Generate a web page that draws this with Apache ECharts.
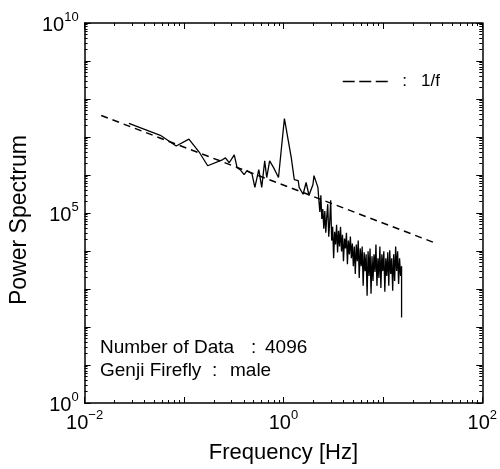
<!DOCTYPE html>
<html>
<head>
<meta charset="utf-8">
<script src="https://cdn.jsdelivr.net/npm/echarts@6/dist/echarts.min.js"></script>
<style>
  html, body { margin: 0; padding: 0; background: #fff; }
  #chart { width: 500px; height: 469px; }
</style>
</head>
<body>
<div id="chart"></div>
<script>
// spectrum
const freq = [
  0.0279, 0.0578, 0.0834, 0.112, 0.144, 0.173, 0.243, 0.261, 0.285, 0.320,
  0.342, 0.367, 0.402, 0.430, 0.482, 0.516, 0.565, 0.605, 0.648, 0.679,
  0.726, 0.796, 0.892, 0.955, 1.023, 1.121, 1.200, 1.285, 1.408, 1.439,
  1.507, 1.578, 1.690, 1.808, 1.982, 2.028, 2.123, 2.223,
  2.272, 2.325, 2.379, 2.433, 2.489, 2.547, 2.606, 2.666, 2.727, 2.790,
  2.855, 2.921, 2.988, 3.057, 3.126, 3.199, 3.273, 3.348, 3.426, 3.504,
  3.585, 3.668, 3.752, 3.839, 3.927, 4.018, 4.111, 4.206, 4.303, 4.402,
  4.503, 4.607, 4.713, 4.822, 4.933, 5.047, 5.163, 5.282, 5.404, 5.529,
  5.656, 5.786, 5.920, 6.057, 6.196, 6.339, 6.485, 6.635, 6.788, 6.944,
  7.104, 7.268, 7.435, 7.607, 7.782, 7.962, 8.145, 8.333, 8.525, 8.722,
  8.923, 9.129, 9.339, 9.555, 9.775, 10.00, 10.23, 10.47, 10.71, 10.95,
  11.21, 11.47, 11.73, 12.00, 12.28, 12.56, 12.85, 13.15, 13.45, 13.76,
  14.08, 14.40, 14.73, 15.08, 15.43, 15.43
];
const power = [
  2.28e7, 1.11e7, 5.78e6, 8.77e6, 3.80e6, 1.75e6, 2.51e6, 2.82e6, 2.10e6, 3.38e6,
  1.56e6, 1.38e6, 1.02e6, 1.30e6, 1.09e6, 4.72e5, 1.38e6, 4.72e5, 2.36e6, 8.57e5,
  2.36e6, 1.56e6, 8.57e5, 5.13e6, 3.07e7, 7.78e6, 2.82e6, 7.60e5, 7.16e5, 4.72e5,
  5.31e5, 3.11e5, 6.35e5, 2.93e5, 5.64e5, 9.64e5, 1.02e6, 4.72e5,
  2.17e5, 1.06e5, 2.93e5, 7.00e4, 1.27e5, 3.85e4, 1.13e5, 3.03e4, 7.87e4, 1.71e5,
  2.39e4, 5.85e4, 2.17e5, 1.88e4, 4.34e4, 6.43e3, 3.22e4, 1.48e4, 4.89e4, 9.20e3,
  3.42e4, 1.32e4, 4.34e4, 9.77e3, 2.69e4, 5.38e3, 2.12e4, 1.17e4, 3.03e4, 4.50e3,
  1.88e4, 8.17e3, 2.39e4, 6.43e3, 1.57e4, 3.99e3, 1.32e4, 2.48e3, 1.48e4, 5.38e3,
  1.88e4, 1.95e3, 1.17e4, 3.99e3, 1.32e4, 1.21e3, 9.20e3, 2.96e3, 8.17e3, 667,
  9.77e3, 2.20e3, 1.17e4, 752, 7.24e3, 1.63e3, 8.17e3, 2.79e3, 1.48e4, 1.21e3,
  6.43e3, 1.95e3, 1.32e4, 1.07e3, 8.17e3, 2.96e3, 9.77e3, 845, 6.43e3, 2.20e3,
  9.20e3, 1.21e3, 1.04e4, 2.48e3, 6.43e3, 898, 8.17e3, 1.63e3, 1.32e4, 2.96e3,
  9.77e3, 1.36e3, 6.43e3, 2.20e3, 3.99e3, 179
];
// dashed 1/f reference line
const fitFreq = [0.0147, 32.7];
const fitPower = [3.67e7, 1.67e4];

const xMajorTicks = [0.01, 0.1, 1, 10, 100];
const xLabelTicks = [0.01, 1, 100];
const yMajorTicks = [1, 1e1, 1e2, 1e3, 1e4, 1e5, 1e6, 1e7, 1e8, 1e9, 1e10];
const yLabelTicks = [1, 1e5, 1e10];

const font = "'Liberation Sans', Arial, Helvetica, sans-serif";

function minorTicks(majors) {
  const out = [];
  for (let i = 0; i < majors.length - 1; i++) {
    for (let m = 2; m <= 9; m++) out.push(+(m * majors[i]).toPrecision(6));
  }
  return out;
}

function powLabel(v) {
  const e = Math.round(Math.log10(v));
  return '{b|10}{s|' + (e < 0 ? '\u2212' + (-e) : e) + '}';
}

const labelRich = {
  b: { fontSize: 20, lineHeight: 24, verticalAlign: 'bottom', fontFamily: font, color: '#000' },
  s: { fontSize: 13, lineHeight: 14, verticalAlign: 'top', fontFamily: font, color: '#000' }
};

function logAxis(pos, min, max, ticks, len, frame, label) {
  return {
    type: 'log',
    logBase: 10,
    position: pos,
    min: min,
    max: max,
    axisLine: { show: frame, onZero: false, lineStyle: { color: '#000', width: 1.5 } },
    axisTick: { show: true, inside: true, length: len, customValues: ticks,
                lineStyle: { color: '#000', width: 1 } },
    axisLabel: label || { show: false },
    splitLine: { show: false },
    minorTick: { show: false },
    minorSplitLine: { show: false }
  };
}

const xMinor = minorTicks(xMajorTicks);
const yMinor = minorTicks(yMajorTicks);

const xMain = logAxis('bottom', 0.01, 100, xMajorTicks, 6, true, {
  show: true, customValues: xLabelTicks, formatter: powLabel, rich: labelRich, margin: 6
});
xMain.name = 'Frequency [Hz]';
xMain.nameLocation = 'middle';
xMain.nameGap = 39;
xMain.nameTextStyle = { fontSize: 22, fontFamily: font, color: '#000' };

const yMain = logAxis('left', 1, 1e10, yMajorTicks, 6, true, {
  show: true, customValues: yLabelTicks, formatter: powLabel, rich: labelRich, margin: 6
});
yMain.name = 'Power Spectrum';
yMain.nameLocation = 'middle';
yMain.nameGap = 42;
yMain.nameTextStyle = { fontSize: 23, fontFamily: font, color: '#000', padding: [0, 14, 0, 0] };

const chart = echarts.init(document.getElementById('chart'));
chart.setOption({
  animation: false,
  backgroundColor: '#fff',
  grid: { left: 80, right: 16, top: 23, bottom: 60 },
  xAxis: [
    xMain,
    logAxis('bottom', 0.01, 100, xMinor, 3, false),
    logAxis('top', 0.01, 100, xMajorTicks, 6, true),
    logAxis('top', 0.01, 100, xMinor, 3, false)
  ],
  yAxis: [
    yMain,
    logAxis('left', 1, 1e10, yMinor, 3, false),
    logAxis('right', 1, 1e10, yMajorTicks, 6, true),
    logAxis('right', 1, 1e10, yMinor, 3, false)
  ],
  legend: {
    data: ['1/f'],
    left: 337,
    top: 68,
    itemWidth: 45,
    itemHeight: 10,
    formatter: '  :   {name}',
    textStyle: { fontSize: 17, fontFamily: font, color: '#000' },
    itemStyle: { opacity: 0 },
    lineStyle: { type: [12, 4.5], width: 1.5, color: '#000' }
  },
  graphic: [
    { type: 'text', x: 100, y: 338, style: { text: 'Number of Data', font: '19px ' + font, fill: '#000' } },
    { type: 'text', x: 251, y: 338, style: { text: ':', font: '19px ' + font, fill: '#000' } },
    { type: 'text', x: 265, y: 338, style: { text: '4096', font: '19px ' + font, fill: '#000' } },
    { type: 'text', x: 100, y: 361, style: { text: 'Genji Firefly', font: '19px ' + font, fill: '#000' } },
    { type: 'text', x: 212, y: 361, style: { text: ':', font: '19px ' + font, fill: '#000' } },
    { type: 'text', x: 230, y: 361, style: { text: 'male', font: '19px ' + font, fill: '#000' } }
  ],
  series: [
    {
      name: 'spectrum',
      type: 'line',
      data: freq.map((f, i) => [f, power[i]]),
      symbol: 'none',
      silent: true,
      lineStyle: { color: '#000', width: 1.3 }
    },
    {
      name: '1/f',
      type: 'line',
      data: fitFreq.map((f, i) => [f, fitPower[i]]),
      symbol: 'none',
      silent: true,
      lineStyle: { color: '#000', width: 1.5, type: [7, 5] }
    }
  ]
});
window.onresize = function () {
  chart.resize();
};
</script>
</body>
</html>
